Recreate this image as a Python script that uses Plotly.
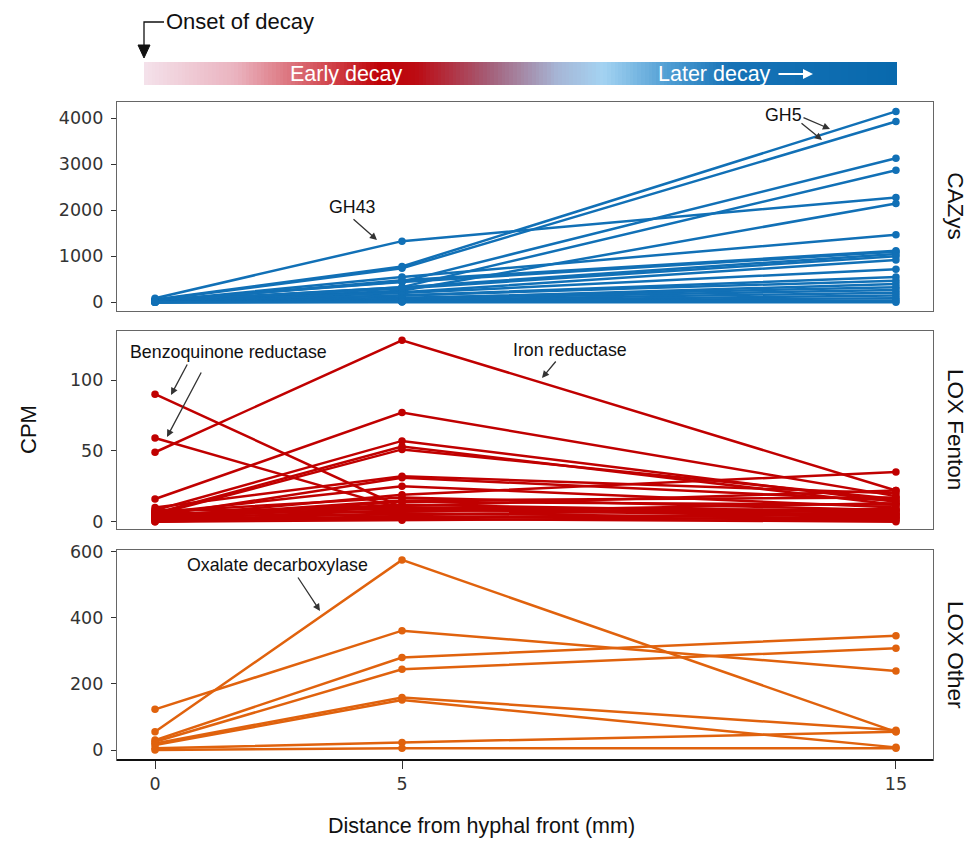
import plotly.graph_objects as go

# ---------------- data ----------------
distance_mm = [0, 5, 15]

# CAZys (CPM) at 0, 5, 15 mm
cazy_0mm = [60, 50, 40, 30, 90, 20, 30, 20, 40, 10, 30, 10, 20, 10, 10, 5, 5, 0, 5, 0, 0, 0, 0]
cazy_5mm = [780, 740, 450, 330, 1330, 250, 550, 480, 440, 330, 300, 220, 200, 150, 150, 80, 100, 80, 50, 30, 20, 10, 5]
cazy_15mm = [4150, 3930, 3130, 2870, 2280, 2150, 1470, 1120, 1100, 1050, 1000, 920, 720, 550, 470, 400, 330, 270, 210, 150, 90, 40, 0]

# LOX Fenton (CPM)
fenton_0mm = [49, 90, 59, 16, 8, 6, 5, 10, 4, 6, 3, 7, 2, 4, 5, 3, 8, 2, 1, 4, 0, 2, 1, 0, 6, 3]
fenton_5mm = [128, 10, 9, 77, 57, 53, 51, 32, 31, 25, 19, 17, 14, 12, 11, 10, 9, 8, 6, 5, 4, 3, 2, 1, 7, 15]
fenton_15mm = [22, 8, 5, 18, 14, 12, 16, 20, 15, 10, 35, 8, 12, 6, 22, 4, 3, 7, 2, 9, 1, 5, 0, 3, 13, 17]

# LOX Other (CPM)
other_0mm = [55, 123, 30, 25, 20, 15, 5, 0]
other_5mm = [575, 361, 280, 244, 159, 151, 23, 5]
other_15mm = [55, 239, 346, 308, 60, 8, 55, 5]

panel_names = ["CAZys", "LOX Fenton", "LOX Other"]
y_ticks = [[0, 1000, 2000, 3000, 4000], [0, 50, 100], [0, 200, 400, 600]]
x_ticks = [0, 5, 15]

# ---------------- layout geometry (page pixel coordinates) ----------------
OFF = 8                      # default page body margin
W_FIG, H_FIG = 973 - OFF, 841 - OFF
L, R, T, B = 117, 933, 20, 760
PW, PH = R - L, B - T


def px(x):
    return (x - L) / PW


def py(y):
    return (B - y) / PH


BLUE = "#1170B6"
RED = "#C00000"
ORANGE = "#E0620D"

fig = go.Figure()

panels = [
    (cazy_0mm, cazy_5mm, cazy_15mm, BLUE, "x", "y"),
    (fenton_0mm, fenton_5mm, fenton_15mm, RED, "x2", "y2"),
    (other_0mm, other_5mm, other_15mm, ORANGE, "x3", "y3"),
]
for a, b, c, col, xa, ya in panels:
    for i in range(len(a)):
        fig.add_trace(go.Scatter(
            x=distance_mm, y=[a[i], b[i], c[i]], mode="lines+markers",
            line=dict(color=col, width=2.5), marker=dict(color=col, size=7.5),
            xaxis=xa, yaxis=ya, showlegend=False, hoverinfo="skip"))

# gradient bar (heatmap on its own axis)
N = 200
fig.add_trace(go.Heatmap(
    z=[list(range(N))], xaxis="x4", yaxis="y4", showscale=False, hoverinfo="skip",
    colorscale=[
        [0.0, "#f4e1ea"],
        [0.12, "#eab3bf"],
        [0.24, "#d24a52"],
        [0.31, "#c00308"],
        [0.36, "#bc0a12"],
        [0.46, "#a4607a"],
        [0.55, "#a6b6d6"],
        [0.61, "#a4d3f2"],
        [0.70, "#4d9cd2"],
        [0.78, "#1672b6"],
        [1.0, "#0869ad"],
    ]))

domains = [[py(311), py(101.7)], [py(529), py(331)], [0, py(550)]]
ranges = [[-189, 4361], [-5.2, 134.6], [-30.2, 605]]
xrange = [-0.77, 15.75]

axis_font = dict(family="DejaVu Sans", size=17.5, color="#333333")

layout = dict(
    width=W_FIG, height=H_FIG,
    margin=dict(l=L - OFF, r=W_FIG - (R - OFF), t=T - OFF, b=H_FIG - (B - OFF),
                autoexpand=False),
    paper_bgcolor="white", plot_bgcolor="white",
)
for k in range(3):
    sx = "" if k == 0 else str(k + 1)
    layout["xaxis" + sx] = dict(
        domain=[0, 1], range=xrange, anchor="y" + sx,
        showgrid=False, zeroline=False, showline=True, mirror=True,
        linecolor="#666666", linewidth=1.2,
        tickvals=x_ticks if k == 2 else [],
        ticks="outside" if k == 2 else "", ticklen=8, tickcolor="#333333",
        tickfont=axis_font, showticklabels=(k == 2),
    )
    layout["yaxis" + sx] = dict(
        domain=domains[k], range=ranges[k], anchor="x" + sx,
        showgrid=False, zeroline=False, showline=True, mirror=True,
        linecolor="#666666", linewidth=1.2,
        tickvals=y_ticks[k], ticks="outside", ticklen=5, tickcolor="#333333",
        tickfont=axis_font, ticklabelstandoff=4,
    )
layout["xaxis4"] = dict(domain=[px(144), px(897)], range=[-0.5, N - 0.5], anchor="y4",
                        visible=False, fixedrange=True)
layout["yaxis4"] = dict(domain=[py(85), py(62)], range=[-0.5, 0.5], anchor="x4",
                        visible=False, fixedrange=True)
fig.update_layout(**layout)

ann = []


def label(text, x, y, size, color="#111111", angle=0, xanchor="center"):
    return dict(text=text, x=px(x), y=py(y), xref="paper", yref="paper",
                xanchor=xanchor, yanchor="middle", showarrow=False, textangle=angle,
                font=dict(size=size, family="Liberation Sans, Arial", color=color))


# facet labels
for name, (y0, y1) in zip(panel_names, [(101.7, 311), (331, 529), (550, 760)]):
    ann.append(label(name, 956, (y0 + y1) / 2, 22.5, angle=90))
# axis titles
ann.append(label("CPM", 28, 430, 22, angle=-90))
ann.append(label("Distance from hyphal front (mm)", 481, 826, 21.5))

# labels with arrows
labels = [
    ("GH43", 352, 207, [((352, 218), (377, 240))]),
    ("GH5", 783, 115, [((802, 117), (830, 129)), ((800, 122), (822, 140))]),
    ("Benzoquinone reductase", 228, 352, [((188, 363), (171, 395)), ((202, 371), (167, 437))]),
    ("Iron reductase", 570, 350, [((557, 360), (542, 378))]),
    ("Oxalate decarboxylase", 277, 565, [((297, 576), (320, 611))]),
]
for text, tx, ty, arrows in labels:
    ann.append(label(text, tx, ty, 17.8))
    for (t0, t1), (h0, h1) in arrows:
        ann.append(dict(text="", x=px(h0), y=py(h1), xref="paper", yref="paper",
                        ax=t0 - h0, ay=t1 - h1, axref="pixel", ayref="pixel",
                        showarrow=True, arrowhead=2, arrowsize=1.1, arrowwidth=1.3,
                        arrowcolor="#333333", standoff=0, startstandoff=0))

# bar texts
ann.append(label("Early decay", 346, 74, 21.5, color="white"))
ann.append(label("Later decay", 714, 74, 21.5, color="white"))
ann.append(dict(text="", x=px(813), y=py(74), xref="paper", yref="paper",
                ax=-36, ay=0, axref="pixel", ayref="pixel", showarrow=True,
                arrowhead=2, arrowsize=1.0, arrowwidth=2, arrowcolor="white",
                standoff=0, startstandoff=0))
# onset label
ann.append(label("Onset of decay", 164, 22, 22, xanchor="left"))

shapes = [
    dict(type="path", xref="paper", yref="paper", line=dict(color="#111111", width=1.3),
         path=f"M {px(164)},{py(22)} L {px(144)},{py(22)} L {px(144)},{py(46)}"),
    dict(type="path", xref="paper", yref="paper", line=dict(color="#111111", width=1),
         fillcolor="#111111",
         path=f"M {px(138)},{py(45)} L {px(150)},{py(45)} L {px(144)},{py(58)} Z"),
    dict(type="line", xref="paper", yref="paper", x0=0, x1=1, y0=0, y1=0,
         line=dict(color="#111111", width=2)),
]
fig.update_layout(annotations=ann, shapes=shapes)

fig.write_html("out.html")
